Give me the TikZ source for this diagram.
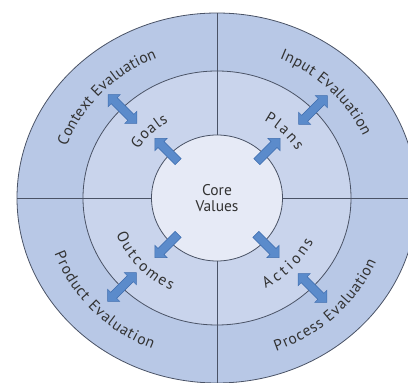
\documentclass[tikz,border=0pt]{standalone}
\usepackage{fontspec}
\setmainfont{PT Sans}
\usetikzlibrary{shapes.geometric,shapes.arrows,decorations.text,calc}
\definecolor{outerfill}{HTML}{B8C8E6}
\definecolor{midfill}{HTML}{C9D4EC}
\definecolor{corefill}{HTML}{E6EAF6}
\definecolor{ringline}{HTML}{4A5366}
\definecolor{arrowfill}{HTML}{5B8BCB}
\definecolor{arrowline}{HTML}{3F6DAE}
\definecolor{labeltext}{HTML}{333333}
\newcommand{\lblfont}{\fontsize{15.5}{17}\selectfont}
\tikzset{
    %Define style for the rings
    ring/.style={
           ellipse,
           draw=ringline, line width=0.8pt,
           inner sep=0pt,
           outer sep=0pt},
    %Define style for arrows out of the core
    inarrow/.style={
           single arrow,
           draw=arrowline, line width=0.5pt,
           fill=arrowfill,
           inner sep=0pt, inner ysep=4pt,
           single arrow head extend=4.5pt,
           minimum height=33pt},
    %Define style for arrows across the middle ring
    linkarrow/.style={
           double arrow,
           draw=arrowline, line width=0.5pt,
           fill=arrowfill,
           inner sep=0pt, inner ysep=4pt,
           double arrow head extend=4.5pt,
           minimum height=41pt},
    % Define line style
    divider/.style={
           draw=ringline,
           line width=0.8pt},
    ringlabel/.style={
           decorate,
           decoration={text along path,
                       text align=fit to path,
                       text color=labeltext,
                       text={#1}}}
}
\begin{document}
\begin{tikzpicture}[x=1pt,y=1pt]
\useasboundingbox (0,0) rectangle (408,383);
\clip (0,0) rectangle (408,383);
\coordinate (C) at (217,185);

 %rings
\node[ring, fill=outerfill, minimum width=400pt, minimum height=370pt] (outer) at (C) {};
\node[ring, fill=midfill, minimum width=268pt, minimum height=254pt] (middle) at (C) {};
\node[ring, fill=corefill, minimum width=131pt, minimum height=126pt,
      font=\fontsize{15.5}{15.5}\selectfont, text=labeltext, align=center] (core) at (C) {Core\\Values};

 %dividers
\path[divider] (core.north) edge (outer.north)
    (core.south) edge (outer.south)
    (core.west) edge (outer.west)
    (core.east) edge (outer.east);

 %arrows
\node[inarrow, rotate=135] (goalsarrow) at ($(C)+(-49,46.5)$) {};
\node[inarrow, rotate=45] (plansarrow) at ($(C)+(50,46.5)$) {};
\node[inarrow, rotate=225] (outcomesarrow) at ($(C)+(-49,-46.5)$) {};
\node[inarrow, rotate=-45] (actionsarrow) at ($(C)+(49,-46.5)$) {};
\node[linkarrow, rotate=135] (contextarrow) at ($(C)+(-94.5,89)$) {};
\node[linkarrow, rotate=45] (inputarrow) at ($(C)+(96,88)$) {};
\node[linkarrow, rotate=45] (productarrow) at ($(C)+(-95,-89)$) {};
\node[linkarrow, rotate=135] (processarrow) at ($(C)+(95.5,-90)$) {};

 %labels
\begin{scope}
\lblfont
\path[ringlabel={Context Evaluation}] ($(C)+(160:160pt and 151pt)$)
    arc[start angle=160, end angle=112, x radius=160pt, y radius=151pt];
\path[ringlabel={Input Evaluation}] ($(C)+(67:160pt and 151pt)$)
    arc[start angle=67, end angle=24, x radius=160pt, y radius=151pt];
\path[ringlabel={Product Evaluation}] ($(C)+(200:173pt and 163pt)$)
    arc[start angle=200, end angle=248, x radius=173pt, y radius=163pt];
\path[ringlabel={Process Evaluation}] ($(C)+(-70:173pt and 163pt)$)
    arc[start angle=-70, end angle=-23, x radius=173pt, y radius=163pt];
\path[ringlabel={Goals}] ($(C)+(147:94pt and 89pt)$)
    arc[start angle=147, end angle=121, x radius=94pt, y radius=89pt];
\path[ringlabel={Plans}] ($(C)+(60:94pt and 89pt)$)
    arc[start angle=60, end angle=32, x radius=94pt, y radius=89pt];
\path[ringlabel={Outcomes}] ($(C)+(201:108pt and 102pt)$)
    arc[start angle=201, end angle=245, x radius=108pt, y radius=102pt];
\path[ringlabel={Actions}] ($(C)+(-63:107pt and 101pt)$)
    arc[start angle=-63, end angle=-25.5, x radius=107pt, y radius=101pt];
\end{scope}

\end{tikzpicture}
\end{document}
